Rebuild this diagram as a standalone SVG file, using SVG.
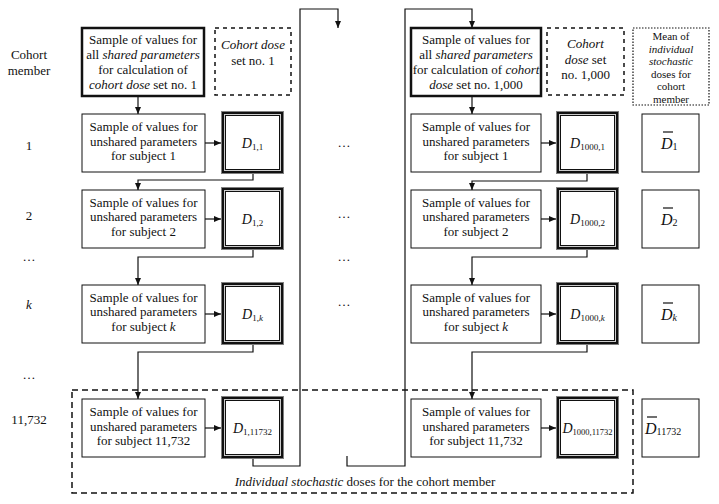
<svg xmlns="http://www.w3.org/2000/svg" xmlns:xlink="http://www.w3.org/1999/xlink" width="719" height="504" viewBox="0 0 719 504">
<style>
text{font-family:"Liberation Serif","Times New Roman",serif;font-size:13px;fill:#111}
.c{text-anchor:middle}
.i{font-style:italic}
.box{fill:#fff;stroke:#111;stroke-width:1}
.shared{fill:#fff;stroke:#111;stroke-width:2.5}
.dash{fill:none;stroke:#111;stroke-width:1.5;stroke-dasharray:4 4}
.dash2{fill:none;stroke:#111;stroke-width:1.5;stroke-dasharray:6 4}
.dot{fill:none;stroke:#111;stroke-width:1.2;stroke-dasharray:1.5 1.5}
.conn{fill:none;stroke:#111;stroke-width:1.2;marker-end:url(#ah)}
.dl{font-style:italic;font-size:14px}
.sub{font-style:normal;font-size:9px}
.db{font-style:italic;font-size:16px}
.dbs{font-style:normal;font-size:10px}
.dbs.i{font-style:italic}
.bar{stroke:#111;stroke-width:1.2}
.mean text{font-size:11px}
</style>
<defs>
<marker id="ah" markerWidth="7" markerHeight="6" refX="7" refY="3" orient="auto" markerUnits="userSpaceOnUse">
<path d="M0,0 L7,3 L0,6 Z" fill="#111"/>
</marker>
<g id="dframe">
<rect x="2.5" y="2.5" width="58" height="58" fill="#fff" stroke="#808080" stroke-width="5"/>
<rect x="2" y="2" width="59" height="59" fill="none" stroke="#111" stroke-width="2"/>
<rect x="3.5" y="3.5" width="56" height="56" fill="none" stroke="#ccc" stroke-width="1"/>
<rect x="4.5" y="4.5" width="54" height="54" fill="none" stroke="#111" stroke-width="1"/>
</g>
</defs>
<rect width="719" height="504" fill="#fff"/>

<g id="labels">
<text class="c" x="29" y="59">Cohort</text>
<text class="c" x="29" y="74.5">member</text>
<text class="c" x="29" y="150">1</text>
<text class="c" x="29" y="220">2</text>
<text class="c" x="29" y="261">…</text>
<text class="c i" x="29" y="309">k</text>
<text class="c" x="29" y="379">…</text>
<text class="c" x="29" y="424">11,732</text>
<text class="c" x="344" y="147">…</text>
<text class="c" x="344" y="218">…</text>
<text class="c" x="344" y="261">…</text>
<text class="c" x="344" y="306">…</text>
</g>

<g id="connectors">
<path class="conn" d="M138,96 V114"/>
<path class="conn" d="M205,143 H221"/>
<path class="conn" d="M253,174 V180 H138 V190"/>
<path class="conn" d="M205,219 H221"/>
<path class="conn" d="M253,250 V257 H138 V285"/>
<path class="conn" d="M205,314 H221"/>
<path class="conn" d="M253,345 V352 H138 V399"/>
<path class="conn" d="M205,428 H221"/>
<path class="conn" d="M253,459 V466 H300 V9 H338 V28"/>
<path class="conn" d="M347,456 V466 H405 V9 H472 V28"/>
<path class="conn" d="M472,96 V114"/>
<path class="conn" d="M541,143 H556"/>
<path class="conn" d="M587,174 V181 H472 V190"/>
<path class="conn" d="M541,219 H556"/>
<path class="conn" d="M587,250 V257 H472 V285"/>
<path class="conn" d="M541,314 H556"/>
<path class="conn" d="M587,345 V352 H472 V399"/>
<path class="conn" d="M541,428 H556"/>
</g>

<g id="shared1">
<rect class="shared" x="82" y="28" width="122" height="68"/>
<text class="c" x="143" y="44">Sample of values for</text>
<text class="c" x="143" y="59">all <tspan class="i">shared parameters</tspan></text>
<text class="c" x="143" y="74">for calculation of</text>
<text class="c" x="143" y="89"><tspan class="i">cohort dose</tspan> set no. 1</text>
</g>
<g id="cohortdose1">
<rect class="dash" x="215" y="28" width="76" height="67"/>
<text class="c i" x="253" y="49">Cohort dose</text>
<text class="c" x="253" y="65">set no. 1</text>
</g>
<g id="shared1000">
<rect class="shared" x="411" y="28" width="130" height="68"/>
<text class="c" x="476" y="44">Sample of values for</text>
<text class="c" x="476" y="59">all <tspan class="i">shared parameters</tspan></text>
<text class="c" x="476" y="74">for calculation of <tspan class="i">cohort</tspan></text>
<text class="c" x="476" y="89"><tspan class="i">dose</tspan> set no. 1,000</text>
</g>
<g id="cohortdose1000">
<rect class="dash" x="547" y="28" width="77" height="67"/>
<text class="c i" x="585.5" y="48">Cohort</text>
<text class="c" x="585.5" y="64"><tspan class="i">dose</tspan> set</text>
<text class="c" x="585.5" y="79">no. 1,000</text>
</g>
<g id="mean" class="mean">
<rect class="dot" x="633" y="28" width="76" height="77"/>
<text class="c" x="671" y="40">Mean of</text>
<text class="c i" x="671" y="52.5">individual</text>
<text class="c i" x="671" y="65">stochastic</text>
<text class="c" x="671" y="77.5">doses for</text>
<text class="c" x="671" y="90">cohort</text>
<text class="c" x="671" y="102.5">member</text>
</g>

<g id="group-individual">
<rect class="dash2" x="72" y="390" width="561" height="103"/>
<text class="c" x="365" y="486"><tspan class="i">Individual stochastic</tspan> doses for the cohort member</text>
</g>

<g id="subj1-1">
<rect class="box" x="82" y="114" width="123" height="58"/>
<text class="c" x="143.5" y="131">Sample of values for</text>
<text class="c" x="143.5" y="145.5">unshared parameters</text>
<text class="c" x="143.5" y="160">for subject 1</text>
</g>
<g id="subj1-2">
<rect class="box" x="82" y="190" width="123" height="58"/>
<text class="c" x="143.5" y="206.5">Sample of values for</text>
<text class="c" x="143.5" y="221">unshared parameters</text>
<text class="c" x="143.5" y="235.5">for subject 2</text>
</g>
<g id="subj1-k">
<rect class="box" x="82" y="285" width="123" height="58"/>
<text class="c" x="143.5" y="301.5">Sample of values for</text>
<text class="c" x="143.5" y="316">unshared parameters</text>
<text class="c" x="143.5" y="330.5">for subject <tspan class="i">k</tspan></text>
</g>
<g id="subj1-11732">
<rect class="box" x="82" y="399" width="123" height="58"/>
<text class="c" x="143.5" y="416">Sample of values for</text>
<text class="c" x="143.5" y="430.5">unshared parameters</text>
<text class="c" x="143.5" y="445">for subject 11,732</text>
</g>

<g id="d1-1">
<use xlink:href="#dframe" href="#dframe" x="221" y="111"/>
<text class="c dl" x="252.5" y="148">D<tspan class="sub" dy="2">1,1</tspan></text>
</g>
<g id="d1-2">
<use xlink:href="#dframe" href="#dframe" x="221" y="187"/>
<text class="c dl" x="252.5" y="224">D<tspan class="sub" dy="2">1,2</tspan></text>
</g>
<g id="d1-k">
<use xlink:href="#dframe" href="#dframe" x="221" y="282"/>
<text class="c dl" x="252.5" y="319">D<tspan class="sub" dy="2">1,<tspan class="i">k</tspan></tspan></text>
</g>
<g id="d1-11732">
<use xlink:href="#dframe" href="#dframe" x="221" y="396"/>
<text class="c dl" x="252.5" y="433">D<tspan class="sub" dy="2">1,11732</tspan></text>
</g>

<g id="subj1000-1">
<rect class="box" x="411" y="114" width="130" height="58"/>
<text class="c" x="476" y="131">Sample of values for</text>
<text class="c" x="476" y="145.5">unshared parameters</text>
<text class="c" x="476" y="160">for subject 1</text>
</g>
<g id="subj1000-2">
<rect class="box" x="411" y="190" width="130" height="58"/>
<text class="c" x="476" y="206.5">Sample of values for</text>
<text class="c" x="476" y="221">unshared parameters</text>
<text class="c" x="476" y="235.5">for subject 2</text>
</g>
<g id="subj1000-k">
<rect class="box" x="411" y="285" width="130" height="58"/>
<text class="c" x="476" y="301.5">Sample of values for</text>
<text class="c" x="476" y="316">unshared parameters</text>
<text class="c" x="476" y="330.5">for subject <tspan class="i">k</tspan></text>
</g>
<g id="subj1000-11732">
<rect class="box" x="411" y="399" width="130" height="58"/>
<text class="c" x="476" y="416">Sample of values for</text>
<text class="c" x="476" y="430.5">unshared parameters</text>
<text class="c" x="476" y="445">for subject 11,732</text>
</g>

<g id="d1000-1">
<use xlink:href="#dframe" href="#dframe" x="556" y="111"/>
<text class="c dl" x="587.5" y="148">D<tspan class="sub" dy="2">1000,1</tspan></text>
</g>
<g id="d1000-2">
<use xlink:href="#dframe" href="#dframe" x="556" y="187"/>
<text class="c dl" x="587.5" y="224">D<tspan class="sub" dy="2">1000,2</tspan></text>
</g>
<g id="d1000-k">
<use xlink:href="#dframe" href="#dframe" x="556" y="282"/>
<text class="c dl" x="587.5" y="319">D<tspan class="sub" dy="2">1000,<tspan class="i">k</tspan></tspan></text>
</g>
<g id="d1000-11732">
<use xlink:href="#dframe" href="#dframe" x="556" y="396"/>
<text class="c dl" x="587.5" y="433">D<tspan class="sub" dy="2" style="font-size:8.5px">1000,11732</tspan></text>
</g>

<g id="mean-1">
<rect class="box" x="642" y="114" width="57" height="58"/>
<line class="bar" x1="663" y1="132" x2="673" y2="132"/>
<text class="db" x="661" y="149">D<tspan class="dbs" dy="1">1</tspan></text>
</g>
<g id="mean-2">
<rect class="box" x="642" y="190" width="57" height="58"/>
<line class="bar" x1="663" y1="208" x2="673" y2="208"/>
<text class="db" x="661" y="225">D<tspan class="dbs" dy="1">2</tspan></text>
</g>
<g id="mean-k">
<rect class="box" x="642" y="285" width="57" height="58"/>
<line class="bar" x1="663" y1="303" x2="673" y2="303"/>
<text class="db" x="661" y="320">D<tspan class="dbs i" dy="1">k</tspan></text>
</g>
<g id="mean-11732">
<rect class="box" x="642" y="399" width="57" height="58"/>
<line class="bar" x1="647" y1="417" x2="657" y2="417"/>
<text class="db" x="645" y="434">D<tspan class="dbs" dy="1">11732</tspan></text>
</g>
</svg>
